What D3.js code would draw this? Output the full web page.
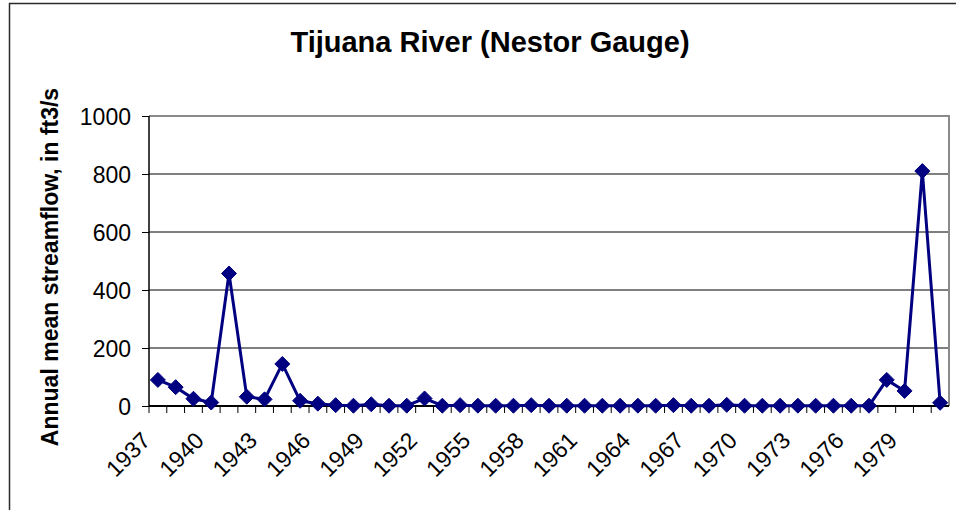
<!DOCTYPE html>
<html>
<head>
<meta charset="utf-8">
<script src="https://cdn.jsdelivr.net/npm/d3@7"></script>
<style>
  body { margin: 0; background: #fff; }
  svg { display: block; font-family: "Liberation Sans", Arial, sans-serif; }
</style>
</head>
<body>
<script>
// annual mean streamflow, ft3/s
const years = d3.range(1937, 1982).map(String);
const flow = [90, 65, 25, 12, 457, 32, 23, 145, 18, 8,
  3, 1, 6, 1, 1, 26, 1, 3, 1, 1,
  1, 3, 1, 1, 1, 1, 1, 1, 1, 3,
  1, 1, 4, 1, 1, 1, 1, 1, 1, 1,
  1, 90, 52, 810, 11];
const yTicks = [0, 200, 400, 600, 800, 1000];
const xLabels = years.filter((d, i) => i % 3 === 0 && +d <= 1979);

const W = 956, H = 510;
const margin = { top: 116, right: 7, bottom: 104, left: 149 };
const width = W - margin.left - margin.right;
const height = H - margin.top - margin.bottom;

const svg = d3.select('body').append('svg')
  .attr('width', W)
  .attr('height', H);

// chart area border
svg.append('rect')
  .attr('x', 9.5).attr('y', 3.5)
  .attr('width', W + 20).attr('height', H + 20)
  .attr('fill', 'none')
  .attr('stroke', '#2a2a2a')
  .attr('stroke-width', 1.5);

svg.append('text')
  .attr('x', 490)
  .attr('y', 52)
  .attr('text-anchor', 'middle')
  .style('font-size', '29px')
  .style('font-weight', 'bold')
  .text('Tijuana River (Nestor Gauge)');

const g = svg.append('g')
  .attr('transform', `translate(${margin.left}, ${margin.top})`);

const xScale = d3.scaleBand()
  .domain(years)
  .range([0, width]);

const yScale = d3.scaleLinear()
  .domain([0, 1000])
  .range([height, 0]);

// gridlines
g.selectAll('.grid').data(yTicks.filter(d => d > 0 && d < 1000))
  .enter().append('line')
  .attr('x1', 0).attr('x2', width)
  .attr('y1', d => yScale(d)).attr('y2', d => yScale(d))
  .attr('stroke', '#000')
  .attr('stroke-width', 1);

// plot frame top / right
g.append('path')
  .attr('d', `M0,${yScale(1000)}H${width}V${height}`)
  .attr('fill', 'none')
  .attr('stroke', '#8a8a8a')
  .attr('stroke-width', 2);

// y axis
const yAxis = d3.axisLeft(yScale)
  .tickValues(yTicks)
  .tickSize(7)
  .tickPadding(11)
  .tickFormat(d3.format('d'));

g.append('g')
  .attr('class', 'y axis')
  .call(yAxis)
  .call(s => s.select('.domain').attr('d', `M0,0V${height}`).attr('stroke-width', 1.5))
  .call(s => s.selectAll('text').style('font-size', '23px').attr('fill', '#000').attr('dy', '0.35em'))
  .call(s => s.attr('font-family', null));

// x axis: ticks at category boundaries
const xAxisG = g.append('g')
  .attr('transform', `translate(0, ${height})`);

xAxisG.append('line')
  .attr('x1', 0).attr('x2', width)
  .attr('stroke', '#000')
  .attr('stroke-width', 2);

xAxisG.selectAll('.tick').data(years)
  .enter().append('line')
  .attr('x1', d => xScale(d)).attr('x2', d => xScale(d))
  .attr('y1', 0).attr('y2', 7)
  .attr('stroke', '#000');

xAxisG.selectAll('.lab').data(xLabels)
  .enter().append('text')
  .attr('text-anchor', 'end')
  .attr('transform', d => `translate(${xScale(d) + xScale.bandwidth() / 2 - 6}, 36) rotate(-45)`)
  .style('font-size', '23px')
  .text(d => d);

svg.append('text')
  .attr('transform', `translate(58, 267) rotate(-90)`)
  .attr('text-anchor', 'middle')
  .style('font-size', '23px')
  .style('font-weight', 'bold')
  .text('Annual mean streamflow, in ft3/s');

const cx = (d, i) => xScale(years[i]) + xScale.bandwidth() / 2;

const line = d3.line()
  .x((d, i) => cx(d, i))
  .y(d => yScale(d));

g.append('path')
  .datum(flow)
  .attr('d', line)
  .attr('fill', 'none')
  .attr('stroke', '#000080')
  .attr('stroke-width', 3);

g.selectAll('.pt').data(flow)
  .enter().append('path')
  .attr('class', 'pt')
  .attr('transform', (d, i) => `translate(${cx(d, i)}, ${yScale(d)})`)
  .attr('d', 'M0,-7.5L7.5,0L0,7.5L-7.5,0Z')
  .attr('fill', '#000080')
  .attr('stroke', '#000080')
  .attr('stroke-width', 1);
</script>
</body>
</html>
